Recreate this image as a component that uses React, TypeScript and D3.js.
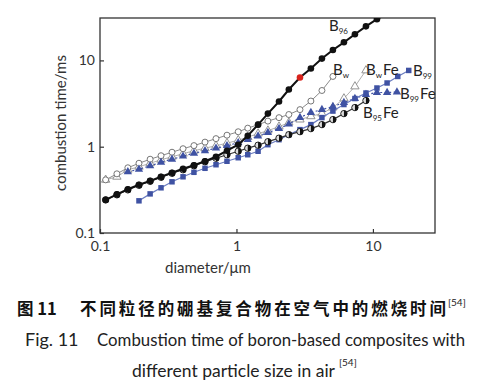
import React, { useEffect, useRef } from "react";
import * as d3 from "d3";

// diameter (um) and combustion time (ms)
const dB96 = [0.11, 0.133, 0.16, 0.193, 0.233, 0.28, 0.337, 0.406, 0.488, 0.588, 0.708, 0.852, 1.03, 1.21, 1.44, 1.7, 2.05, 2.42, 2.92, 3.51, 4.23, 5.09, 6.13, 7.38, 8.89, 10.7, 12.9];
const tB96 = [0.242, 0.28, 0.321, 0.362, 0.402, 0.448, 0.499, 0.555, 0.609, 0.678, 0.765, 0.898, 1.055, 1.34, 1.8, 2.42, 3.34, 4.6, 6.34, 8.07, 10.5, 13.2, 16.2, 20.1, 24.8, 30.0, 35.2];
const B96_RED = 18;

const dBw = [0.11, 0.133, 0.16, 0.193, 0.233, 0.28, 0.337, 0.406, 0.488, 0.588, 0.708, 0.852, 1.03, 1.21, 1.44, 1.7, 2.05, 2.42, 2.92, 3.51, 4.23, 5.09];
const tBw = [0.413, 0.485, 0.57, 0.643, 0.716, 0.786, 0.863, 0.948, 1.03, 1.13, 1.24, 1.36, 1.49, 1.64, 1.8, 1.98, 2.17, 2.36, 2.69, 3.38, 4.48, 6.52];

const dBwFe = [0.11, 0.133, 0.16, 0.193, 0.233, 0.28, 0.337, 0.406, 0.488, 0.588, 0.708, 0.852, 1.03, 1.21, 1.44, 1.7, 2.05, 2.42, 2.92, 3.51, 4.23, 5.09, 6.13, 7.38, 8.89];
const tBwFe = [0.413, 0.448, 0.54, 0.585, 0.643, 0.706, 0.765, 0.829, 0.898, 0.961, 1.027, 1.098, 1.19, 1.29, 1.417, 1.535, 1.708, 1.901, 2.061, 2.25, 2.42, 2.84, 3.62, 4.99, 7.65];

const dB99Fe = [0.16, 0.193, 0.233, 0.28, 0.337, 0.406, 0.488, 0.588, 0.708, 0.852, 1.03, 1.21, 1.44, 1.7, 2.05, 2.42, 2.92, 3.51, 4.23, 5.09, 6.13, 7.38, 8.89, 10.7, 12.7, 15.0];
const tB99Fe = [0.512, 0.548, 0.601, 0.66, 0.716, 0.776, 0.84, 0.898, 0.961, 1.027, 1.113, 1.206, 1.325, 1.455, 1.62, 1.827, 2.174, 2.485, 2.693, 2.918, 3.248, 3.615, 4.024, 4.246, 4.246, 4.303];

const dB99 = [0.193, 0.233, 0.28, 0.337, 0.406, 0.488, 0.588, 0.708, 0.852, 1.03, 1.21, 1.44, 1.7, 2.05, 2.42, 2.92, 3.51, 4.23, 5.09, 6.13, 7.38, 8.89, 10.7, 12.7, 15.2, 18.3];
const tB99 = [0.236, 0.284, 0.334, 0.392, 0.448, 0.505, 0.562, 0.618, 0.678, 0.745, 0.807, 0.886, 1.055, 1.206, 1.379, 1.577, 1.803, 2.174, 2.587, 3.08, 3.615, 4.19, 4.789, 5.475, 6.516, 7.651];

const dB95Fe = [0.11, 0.133, 0.16, 0.193, 0.233, 0.28, 0.337, 0.406, 0.488, 0.588, 0.708, 0.852, 1.03, 1.21, 1.44, 1.7, 2.05, 2.42, 2.92, 3.51, 4.23, 5.09, 6.13, 7.38, 8.89];
const tB95Fe = [0.242, 0.277, 0.316, 0.357, 0.397, 0.442, 0.492, 0.54, 0.601, 0.669, 0.735, 0.807, 0.886, 0.961, 1.041, 1.143, 1.256, 1.379, 1.494, 1.62, 1.803, 2.061, 2.419, 2.841, 3.427];

const xTicks = [0.1, 1, 10];
const yTicks = [0.1, 1, 10];
const tickLabels = ["0.1", "1", "10"];

const FONT = "Lato, 'Open Sans', sans-serif";
const BLUE = "#3f52a3";

const App = () => {
  const ref = useRef<SVGSVGElement>(null);

  useEffect(() => {
    const svg = d3.select(ref.current);
    svg.selectAll("*").remove();

    const left = 100, right = 435, top = 18, bottom = 233;
    const x = d3.scaleLog().domain([0.1, 28.5]).range([left, right]);
    const y = d3.scaleLog().domain([0.1, 31]).range([bottom, top]);

    svg.append("defs").append("clipPath").attr("id", "plotclip")
      .append("rect").attr("x", left).attr("y", top).attr("width", right - left).attr("height", bottom - top);

    // axes
    const xa = svg.append("g").attr("transform", "translate(0," + bottom + ")")
      .call(d3.axisBottom(x).tickValues(xTicks).tickSize(-4).tickPadding(8).tickFormat((d: any) => tickLabels[xTicks.indexOf(d)]));
    const ya = svg.append("g").attr("transform", "translate(" + left + ",0)")
      .call(d3.axisLeft(y).tickValues(yTicks).tickSize(-4).tickPadding(5).tickFormat((d: any) => tickLabels[yTicks.indexOf(d)]));
    [xa, ya].forEach(a => {
      a.select(".domain").remove();
      a.selectAll("line").attr("stroke", "#333").attr("stroke-width", 1.2);
      a.selectAll("text").attr("font-family", FONT).attr("font-size", 14).attr("fill", "#333");
    });

    svg.append("rect").attr("x", left).attr("y", top).attr("width", right - left).attr("height", bottom - top)
      .attr("fill", "none").attr("stroke", "#333").attr("stroke-width", 1.3);

    svg.append("text").attr("x", 208).attr("y", 273).attr("text-anchor", "middle")
      .attr("font-family", FONT).attr("font-size", 15).attr("fill", "#333").text("diameter/μm");
    svg.append("text").attr("transform", "translate(66,123) rotate(-90)").attr("text-anchor", "middle")
      .attr("font-family", FONT).attr("font-size", 15).attr("fill", "#333").text("combustion time/ms");

    const plot = svg.append("g").attr("clip-path", "url(#plotclip)");
    const line = d3.line<number>().x(d => d[0]).y(d => d[1]);

    const series = [
      { d: dBwFe, t: tBwFe, stroke: "#b0b0b0", w: 1, dash: null, mark: "otri" },
      { d: dBw, t: tBw, stroke: "#8a8a8a", w: 1, dash: null, mark: "ocirc" },
      { d: dB99Fe, t: tB99Fe, stroke: BLUE, w: 1.2, dash: "2,2.5", mark: "tri" },
      { d: dB99, t: tB99, stroke: "#6a7cc0", w: 1.2, dash: null, mark: "sq" },
      { d: dB95Fe, t: tB95Fe, stroke: "#333", w: 1.2, dash: null, mark: "half" },
      { d: dB96, t: tB96, stroke: "#111", w: 2, dash: null, mark: "circ" },
    ];

    const tri = d3.symbol().type(d3.symbolTriangle).size(30)();
    const sq = d3.symbol().type(d3.symbolSquare).size(30)();
    const halfArc = d3.arc()({ innerRadius: 0, outerRadius: 3.2, startAngle: 0, endAngle: Math.PI } as any);

    series.forEach(s => {
      const pts = s.d.map((v, i) => [x(v), y(s.t[i])]);
      plot.append("path").attr("d", line(pts as any)).attr("fill", "none")
        .attr("stroke", s.stroke).attr("stroke-width", s.w).attr("stroke-dasharray", s.dash);
      const g = plot.selectAll(null).data(pts).enter().append("g")
        .attr("transform", p => "translate(" + p[0] + "," + p[1] + ")");
      if (s.mark === "ocirc") {
        g.append("circle").attr("r", 3).attr("fill", "#fff").attr("stroke", "#777").attr("stroke-width", 1);
      } else if (s.mark === "otri") {
        g.append("path").attr("d", tri).attr("fill", "#fff").attr("stroke", "#888").attr("stroke-width", 0.9);
      } else if (s.mark === "tri") {
        g.append("path").attr("d", tri).attr("fill", BLUE);
      } else if (s.mark === "sq") {
        g.append("path").attr("d", sq).attr("fill", BLUE);
      } else if (s.mark === "half") {
        g.append("circle").attr("r", 3.2).attr("fill", "#ddd").attr("stroke", "#111").attr("stroke-width", 0.9);
        g.append("path").attr("d", halfArc).attr("fill", "#111");
      } else {
        g.append("circle").attr("r", 3.3).attr("fill", (p, i) => (i === B96_RED ? "#d8231c" : "#111"));
      }
    });

    // series labels
    const label = (lx: number, ly: number, sub: string, tail: string) => {
      const t = svg.append("text").attr("x", lx).attr("y", ly).attr("font-family", FONT)
        .attr("font-size", 15).attr("fill", "#222");
      t.append("tspan").text("B");
      t.append("tspan").attr("dy", 3).attr("font-size", 8).text(sub);
      if (tail) t.append("tspan").attr("dy", -3).attr("dx", 1).attr("font-size", 15).text(tail);
    };
    label(329, 31, "96", "");
    label(333, 75, "w", "");
    label(366, 75, "w", "Fe");
    label(413, 76, "99", "");
    label(400, 99, "99", "Fe");
    label(363, 118, "95", "Fe");

    // caption
    const cn = "'Noto Sans CJK SC', sans-serif";
    svg.append("text").attr("x", 17).attr("y", 315).attr("font-family", cn).attr("font-weight", "bold")
      .attr("font-size", 16.5).attr("fill", "#111").text("图 11");
    svg.append("text").attr("x", 80).attr("y", 315).attr("font-family", cn).attr("font-weight", "bold")
      .attr("font-size", 16.5).attr("fill", "#111").attr("textLength", 366).attr("lengthAdjust", "spacing")
      .text("不同粒径的硼基复合物在空气中的燃烧时间");
    svg.append("text").attr("x", 448).attr("y", 306).attr("font-family", FONT).attr("font-size", 10)
      .attr("fill", "#222").text("[54]");

    svg.append("text").attr("x", 25).attr("y", 346).attr("font-family", FONT).attr("font-size", 18)
      .attr("fill", "#222").text("Fig. 11");
    svg.append("text").attr("x", 97).attr("y", 346).attr("font-family", FONT).attr("font-size", 18)
      .attr("fill", "#222").attr("textLength", 368).attr("lengthAdjust", "spacingAndGlyphs")
      .text("Combustion time of boron-based composites with");
    svg.append("text").attr("x", 132).attr("y", 377).attr("font-family", FONT).attr("font-size", 18)
      .attr("fill", "#222").attr("textLength", 203).attr("lengthAdjust", "spacingAndGlyphs")
      .text("different particle size in air");
    svg.append("text").attr("x", 339).attr("y", 366).attr("font-family", FONT).attr("font-size", 10)
      .attr("fill", "#222").text("[54]");
  }, []);

  return (
    <svg ref={ref} width={500} height={389}
      style={{ position: "absolute", left: 0, top: 0, background: "#fff" }} />
  );
};

export default App;
